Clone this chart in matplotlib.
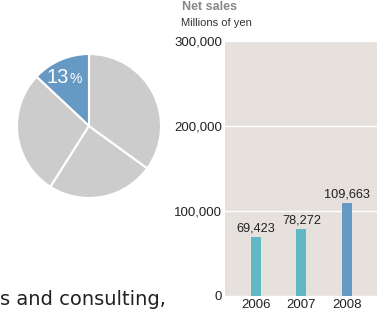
import matplotlib
matplotlib.use("Agg")
import matplotlib.pyplot as plt

plt.rcParams["font.family"] = ["Liberation Sans", "DejaVu Sans"]

# pie: share of business (first slice highlighted)
pie_shares = [13, 28, 24, 35]
pie_colors = ["#6699c3", "#cccccc", "#cccccc", "#cccccc"]

# bars: net sales, millions of yen
years = ["2006", "2007", "2008"]
net_sales = [69423, 78272, 109663]
bar_colors = ["#5fb8c4", "#5fb8c4", "#6699c3"]
y_ticks = [0, 100000, 200000, 300000]

W, H = 377, 313
fig = plt.figure(figsize=(W / 100, H / 100), dpi=100)


def px_axes(left, top, right, bottom):
    return fig.add_axes([left / W, 1 - bottom / H, (right - left) / W, (bottom - top) / H])


# pie chart
pax = px_axes(17, 54, 161, 198)
pax.pie(pie_shares, colors=pie_colors, startangle=90, counterclock=True,
        wedgeprops=dict(edgecolor="white", linewidth=1.5))
pax.set_aspect("equal")
pax.set_xlim(-1, 1)
pax.set_ylim(-1, 1)
fig.text(69 / W, 1 - 83 / H, "13", color="white", fontsize=14.5, ha="right", va="baseline")
fig.text(70 / W, 1 - 83 / H, "%", color="white", fontsize=10, ha="left", va="baseline")

fig.text(0, 1 - 305 / H, "s and consulting,", fontsize=14, color="#222222",
         family="DejaVu Sans", ha="left", va="baseline")

# bar chart
ax = px_axes(225, 41, 377, 296)
ax.set_facecolor("#e6e1dd")
x = range(len(years))
ax.bar(x, net_sales, width=0.22, color=bar_colors, zorder=3)
for xi, v in zip(x, net_sales):
    ax.text(xi, v + 3000, f"{v:,}", ha="center", va="bottom", fontsize=9.2,
            color="#222222", zorder=4)
ax.set_xlim(-0.68, 2.66)
ax.set_ylim(0, 300000)
ax.set_yticks(y_ticks)
ax.set_yticklabels([f"{t:,}" for t in y_ticks], fontsize=9.5, color="#222222")
ax.set_xticks(list(x))
ax.set_xticklabels(years, fontsize=9.5, color="#222222")
ax.tick_params(length=0, pad=2)
ax.grid(axis="y", color="white", linewidth=1, zorder=1)
for s in ax.spines.values():
    s.set_visible(False)

fig.text(182 / W, 1 - 7 / H, "Net sales", fontsize=9, fontweight="bold", color="#888888",
         ha="left", va="center")
fig.text(181 / W, 1 - 23 / H, "Millions of yen", fontsize=8, color="#333333",
         ha="left", va="center")

fig.savefig("out.png", dpi=100)
